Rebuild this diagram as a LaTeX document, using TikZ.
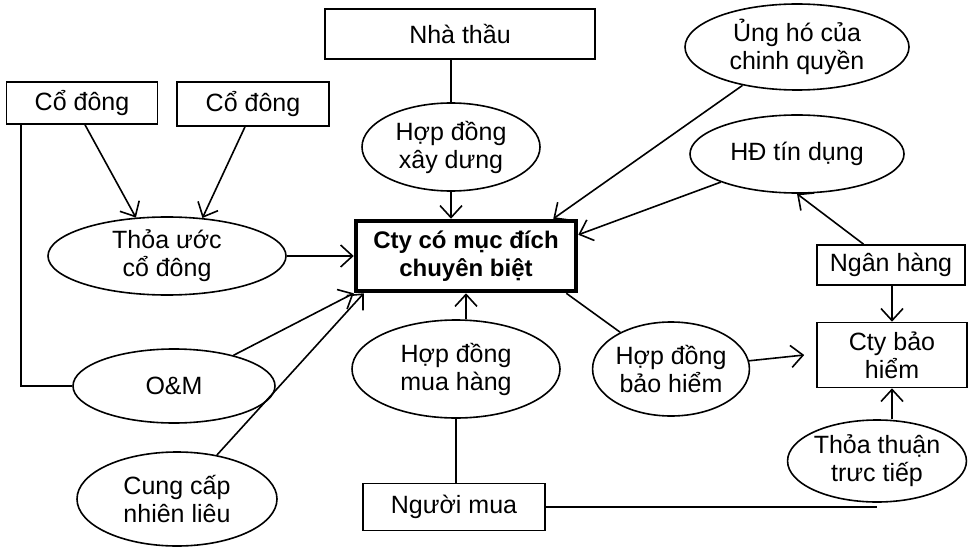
\documentclass[tikz,border=0pt]{standalone}
\usepackage{fontspec}
\setmainfont{Liberation Sans}
\usetikzlibrary{arrows.meta,shapes.geometric}

\begin{document}
\begin{tikzpicture}[x=1pt,y=-1pt,line width=1.6pt,
    >={Straight Barb[length=12pt,width=22pt]},
    font=\fontsize{25}{28}\selectfont,
    box/.style={draw,inner sep=0pt,align=center},
    oval/.style={draw,ellipse,inner sep=0pt,align=center}]
    \useasboundingbox (0,0) rectangle (968,548);

    % left side
    \node[box,minimum width=151pt,minimum height=42pt] (codong1) at (82,103) {Cổ đông};
    \node[box,minimum width=152pt,minimum height=44pt] (codong2) at (253,104) {Cổ đông};
    \node[oval,minimum width=238pt,minimum height=78pt] (thoauoc) at (167,256) {Thỏa ước\\cổ đông};
    \node[oval,minimum width=202pt,minimum height=74pt] (om) at (174,386) {O\&M};
    \node[oval,minimum width=200pt,minimum height=94pt] (nhienlieu) at (177,499) {Cung cấp\\nhiên liêu};

    % centre
    \node[box,minimum width=270pt,minimum height=50pt] (nhathau) at (460,34) {Nhà thầu};
    \node[oval,minimum width=178pt,minimum height=88pt] (xaydung) at (451,147) {Hợp đồng\\xây dưng};
    \node[box,line width=4.5pt,minimum width=220pt,minimum height=70pt,%
      font=\fontsize{24}{28}\selectfont\bfseries] (cty) at (466,256) {Cty có mục đích\\chuyên biệt};
    \node[oval,minimum width=208pt,minimum height=98pt] (muahang) at (456,369) {Hợp đồng\\mua hàng};
    \node[box,minimum width=182pt,minimum height=47pt] (nguoimua) at (454,507) {Người mua};

    % right side
    \node[oval,minimum width=224pt,minimum height=86pt] (ungho) at (797,47) {Ủng hó của\\chinh quyền};
    \node[oval,minimum width=214pt,minimum height=78pt] (tindung) at (797,154) {HĐ tín dụng};
    \node[box,minimum width=148pt,minimum height=40pt] (nganhang) at (891,265) {Ngân hàng};
    \node[box,minimum width=150pt,minimum height=65pt] (baohiem) at (892,355) {Cty bảo\\hiểm};
    \node[oval,minimum width=156pt,minimum height=94pt] (hdbaohiem) at (671,369) {Hợp đồng\\bảo hiểm};
    \node[oval,minimum width=170pt,minimum height=82pt] (tructiep) at (877,461) {Thỏa thuận\\trưc tiếp};

    % connectors
    \draw ([xshift=15pt]codong1.south west) |- (om.west);
    \draw[->] ([xshift=3pt]codong1.south) -- (thoauoc.129);
    \draw[->] ([xshift=-8pt]codong2.south) -- (thoauoc.47);
    \draw[->] (thoauoc) -- (cty);
    \draw[->] (om) -- (cty.south west);
    \draw[->] (nhienlieu) -- ([xshift=10pt]cty.south west);
    \draw (nhathau.south -| xaydung.north) -- (xaydung.north);
    \draw[->] (xaydung.south) -- (xaydung.south |- cty.north);
    \draw[->] (ungho) -- ([xshift=-25pt]cty.north east);
    \draw[->] (tindung) -- ([yshift=-16pt]cty.north east);
    \draw[->] (nganhang) -- (tindung.south);
    \draw[->] (nganhang.south -| baohiem.north) -- (baohiem.north);
    \draw ([xshift=-12pt]cty.south east) -- (hdbaohiem);
    \draw[->] (hdbaohiem) -- ([xshift=-12pt]baohiem.west);
    \draw[->] (tructiep.north -| baohiem.south) -- (baohiem.south);
    \draw[->] (muahang.north -| cty.south) -- (cty.south);
    \draw (muahang.south) -- (muahang.south |- nguoimua.north);
    \draw (nguoimua.east) -- (nguoimua.east -| tructiep.south);
\end{tikzpicture}
\end{document}
